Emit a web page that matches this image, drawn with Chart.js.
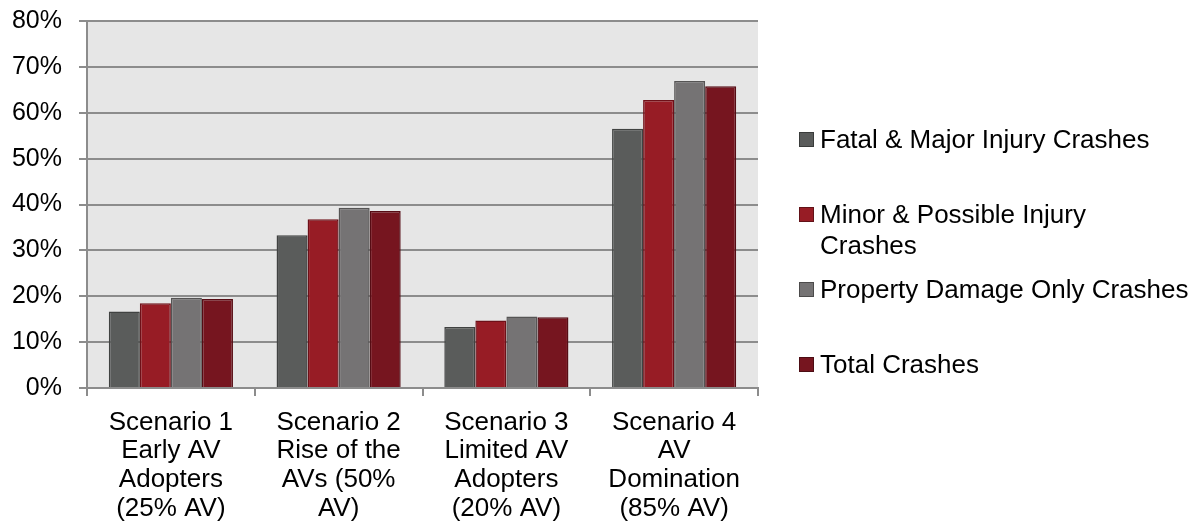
<!DOCTYPE html>
<html>
<head>
<meta charset="utf-8">
<script src="https://cdn.jsdelivr.net/npm/chart.js@4/dist/chart.umd.min.js"></script>
<style>
  body { margin: 0; background: #fff; }
  #wrap { position: relative; width: 1203px; height: 525px; }
  #legend { position: absolute; left: 799px; top: 124px; font-family: "Liberation Sans", Arial, sans-serif; font-size: 26px; color: #000; }
  .item { display: flex; align-items: flex-start; height: 75px; }
  .box { width: 13px; height: 13px; margin-top: 8px; margin-right: 6px; flex: none; border: 1px solid rgba(0,0,0,0.35); }
  .txt { line-height: 31px; white-space: pre-line; }
</style>
</head>
<body>
<div id="wrap">
  <canvas id="myChart" width="1203" height="525"></canvas>
  <div id="legend"></div>
</div>
<script>
const scenarios = [
  ['Scenario 1', 'Early AV', 'Adopters', '(25% AV)'],
  ['Scenario 2', 'Rise of the', 'AVs (50%', 'AV)'],
  ['Scenario 3', 'Limited AV', 'Adopters', '(20% AV)'],
  ['Scenario 4', 'AV', 'Domination', '(85% AV)']
];

const seriesNames = [
  'Fatal & Major Injury Crashes',
  'Minor & Possible Injury\nCrashes',
  'Property Damage Only Crashes',
  'Total Crashes'
];

const fatalMajor = [16.7, 33.3, 13.3, 56.5];
const minorPossible = [18.5, 36.8, 14.7, 62.8];
const propertyOnly = [19.7, 39.3, 15.6, 66.9];
const totalCrashes = [19.4, 38.6, 15.4, 65.8];

const fills = ['#5a5c5b', '#971c25', '#757374', '#76151f'];
const edges = ['#404241', '#6e1018', '#555454', '#560c14'];

const seriesValues = [fatalMajor, minorPossible, propertyOnly, totalCrashes];

// grey plot background
const plotBg = {
  id: 'plotBg',
  beforeDraw(chart) {
    const a = chart.chartArea;
    const ctx = chart.ctx;
    ctx.save();
    ctx.fillStyle = '#e6e6e6';
    ctx.fillRect(a.left, a.top, a.right - a.left, a.bottom - a.top);
    ctx.restore();
  }
};

const data = {
  labels: scenarios,
  datasets: seriesValues.map(function(vals, i) {
    return {
      label: seriesNames[i].replace('\n', ' '),
      data: vals,
      backgroundColor: fills[i],
      borderColor: edges[i],
      borderWidth: 1.5,
      categoryPercentage: 0.74,
      barPercentage: 1.0
    };
  })
};

const config = {
  type: 'bar',
  data: data,
  options: {
    responsive: false,
    animation: false,
    layout: { padding: { top: 21, right: 445, left: 0, bottom: 0 } },
    plugins: {
      legend: { display: false },
      tooltip: { enabled: false }
    },
    scales: {
      x: {
        grid: { display: true, drawOnChartArea: false, color: '#8c8c8c', lineWidth: 2, tickLength: 8 },
        border: { color: '#8c8c8c', width: 2 },
        ticks: {
          color: '#000',
          font: { family: '"Liberation Sans", Arial, sans-serif', size: 26, lineHeight: 1.11 },
          padding: 12,
          maxRotation: 0,
          autoSkip: false
        },
        afterFit: function(s) { s.height = 137; }
      },
      y: {
        min: 0,
        max: 80,
        ticks: {
          stepSize: 10,
          color: '#000',
          font: { family: '"Liberation Sans", Arial, sans-serif', size: 25 },
          padding: 17,
          callback: function(v) { return v + '%'; }
        },
        grid: { color: '#8c8c8c', lineWidth: 2, tickLength: 8 },
        border: { color: '#8c8c8c', width: 2 },
        afterFit: function(s) {
          s.width = 87;
          s.paddingTop = 15;
          s.paddingBottom = 15;
        }
      }
    }
  },
  plugins: [plotBg]
};

const myChart = new Chart(document.getElementById('myChart'), config);

// legend on the right
var legend = document.getElementById('legend');
for (var i = 0; i < seriesNames.length; i++) {
  var item = document.createElement('div');
  item.className = 'item';
  var box = document.createElement('span');
  box.className = 'box';
  box.style.background = fills[i];
  var txt = document.createElement('span');
  txt.className = 'txt';
  txt.textContent = seriesNames[i];
  item.appendChild(box);
  item.appendChild(txt);
  legend.appendChild(item);
}
</script>
</body>
</html>
